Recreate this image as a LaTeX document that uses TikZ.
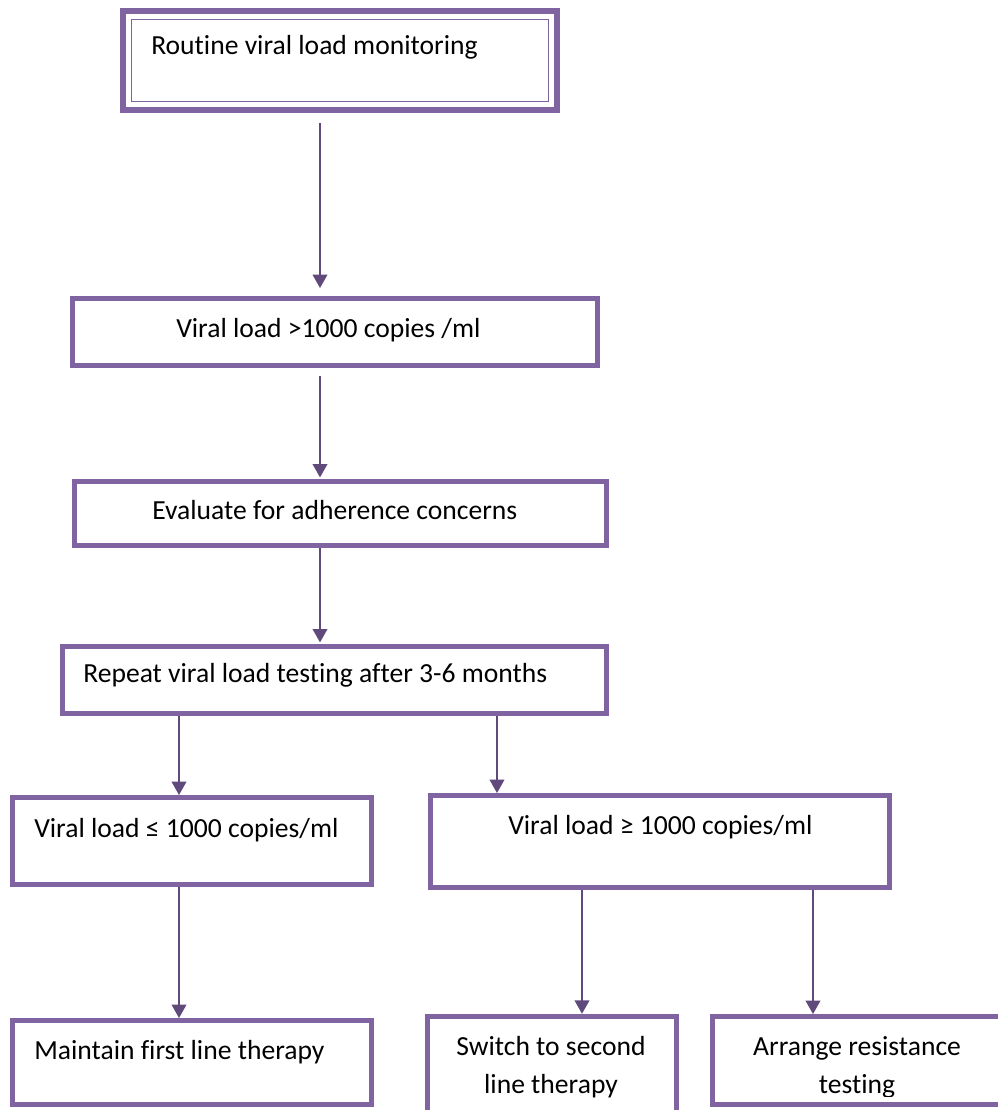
\documentclass[tikz,border=0pt]{standalone}
\usepackage{fontspec}
\setmainfont{Carlito}[Ligatures={NoCommon,NoContextual}]
\usetikzlibrary{arrows.meta,calc}
\definecolor{boxc}{HTML}{8064A2}
\definecolor{arrc}{HTML}{604A7B}
\tikzset{
  flowbox/.style={draw=boxc, line width=3.75pt, rectangle, inner sep=0pt, fill=white},
  lbl/.style={anchor=base west, inner sep=0pt, text=black, font=\fontsize{20.7}{25}\selectfont},
  clbl/.style={anchor=base, inner sep=0pt, text=black, font=\fontsize{20.7}{25}\selectfont},
  arr/.style={draw=arrc, line width=1.1pt, -{Triangle[width=11pt,length=10pt]}},
}
\begin{document}
\begin{tikzpicture}[x=0.75pt,y=-0.75pt]
\path[use as bounding box] (0,0) rectangle (998,1110);
\clip (0,0) rectangle (998,1110);
% boxes
\node[flowbox, minimum width=434*0.75pt, minimum height=99*0.75pt, line width=4.8pt] (b1) at (340,60.5) {};
\draw[boxc, line width=1.2pt] (131.5,19.5) rectangle (548.5,101.5);
\node[flowbox, minimum width=525*0.75pt, minimum height=67*0.75pt] (b2) at (335,332) {};
\node[flowbox, minimum width=532*0.75pt, minimum height=64*0.75pt] (b3) at (340.5,513.5) {};
\node[flowbox, minimum width=544*0.75pt, minimum height=67*0.75pt] (b4) at (334.5,680) {};
\node[flowbox, minimum width=359*0.75pt, minimum height=87*0.75pt] (b5) at (192,841) {};
\node[flowbox, minimum width=459*0.75pt, minimum height=92*0.75pt] (b6) at (660,841.5) {};
\node[flowbox, minimum width=359*0.75pt, minimum height=84*0.75pt] (b7) at (192,1062.5) {};
\node[flowbox, minimum width=249*0.75pt, minimum height=97.5*0.75pt] (b8) at (551.5,1065) {};
\node[flowbox, minimum width=289.5*0.75pt, minimum height=88*0.75pt] (b9) at (857,1060.5) {};
% labels
\node[lbl] (t1) at (151,54) {Routine viral load monitoring};
\node[lbl] (t2) at (176,337) {Viral load >1000 copies /ml};
\node[lbl] (t3) at (152,519) {Evaluate for adherence concerns};
\node[lbl] (t4) at (83,682) {Repeat viral load testing after 3-6 months};
\node[lbl] (t5) at (34,837) {Viral load ≤ 1000 copies/ml};
\node[lbl] (t6) at (508,834) {Viral load ≥ 1000 copies/ml};
\node[lbl] (t7) at (34,1059) {Maintain first line therapy};
\node[clbl] (t8a) at (551,1055) {Switch to second};
\node[clbl] (t8b) at (551,1093) {line therapy};
\node[clbl] (t9a) at (857,1055) {Arrange resistance};
\begin{scope}
\clip (712,1020) rectangle (1000,1096);
\node[clbl] (t9b) at (857,1093) {testing};
\end{scope}
% arrow columns
\coordinate (c1) at (320,0);
\coordinate (c2) at (179,0);
\coordinate (c3) at (497,0);
\coordinate (c4) at (582,0);
\coordinate (c5) at (813,0);
% connectors
\draw[arr, shorten <=7.5pt, shorten >=6pt] (b1.south -| c1) -- (b2.north -| c1);
\draw[arr, shorten <=6pt, shorten >=1.2pt] (b2.south -| c1) -- (b3.north -| c1);
\draw[arr, shorten >=1.2pt] (b3.south -| c1) -- (b4.north -| c1);
\draw[arr] (b4.south -| c2) -- (b5.north -| c2);
\draw[arr] (b4.south -| c3) -- (b6.north -| c3);
\draw[arr] (b5.south -| c2) -- (b7.north -| c2);
\draw[arr] (b6.south -| c4) -- (b8.north -| c4);
\draw[arr] (b6.south -| c5) -- (b9.north -| c5);
\end{tikzpicture}
\end{document}
